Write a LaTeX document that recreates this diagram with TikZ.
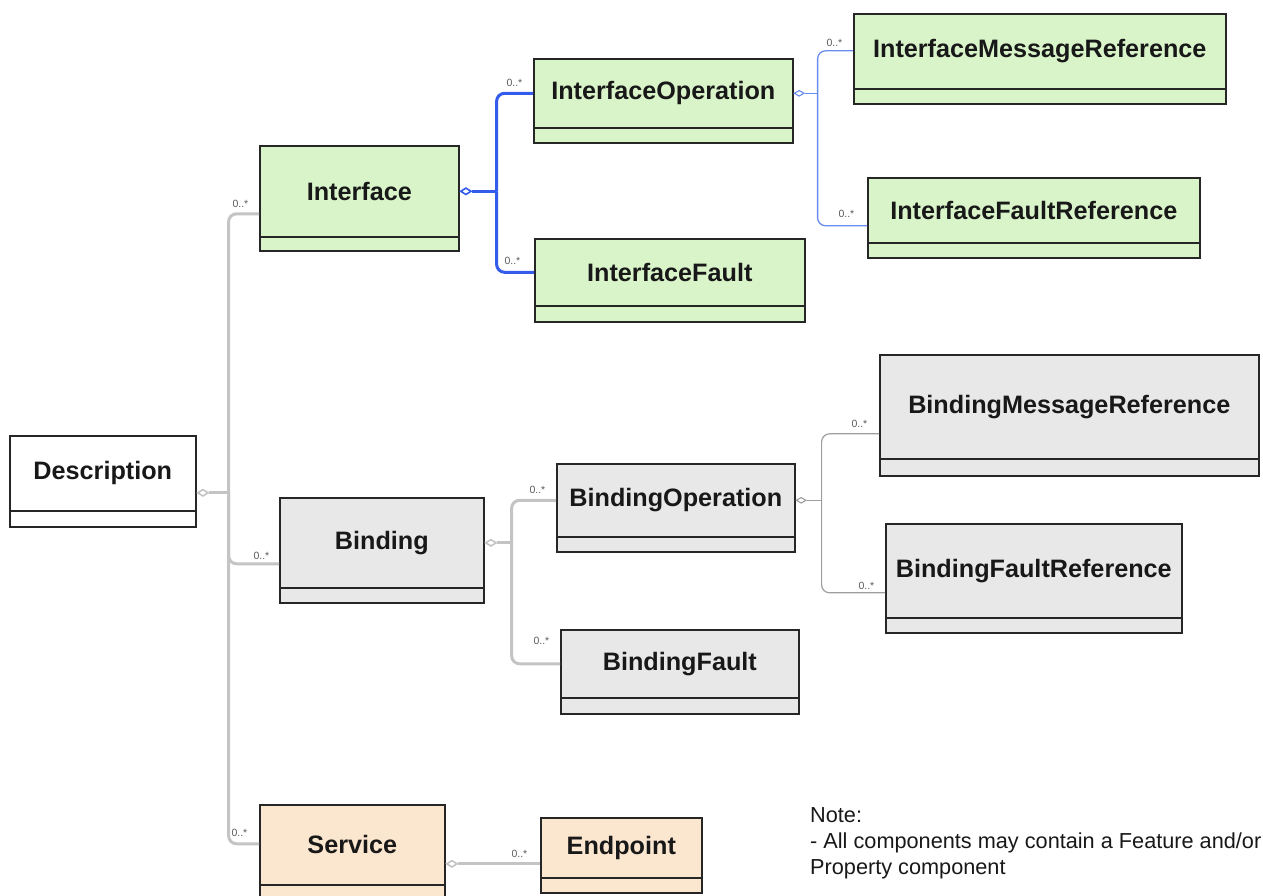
\documentclass[tikz,border=0pt]{standalone}
\usepackage{fontspec}
\setmainfont{Liberation Sans}
\usetikzlibrary{shapes.geometric,calc}

\definecolor{boxline}{RGB}{38,38,38}
\definecolor{boxtext}{RGB}{24,24,24}
\definecolor{greenfill}{RGB}{217,244,201}
\definecolor{grayfill}{RGB}{232,232,232}
\definecolor{peachfill}{RGB}{251,230,207}
\definecolor{bluethick}{RGB}{52,92,236}
\definecolor{bluethin}{RGB}{104,140,240}
\definecolor{graythick}{RGB}{196,196,196}
\definecolor{graythin}{RGB}{158,158,158}
\definecolor{multtext}{RGB}{90,90,90}

\tikzset{
  hdr/.style={draw=boxline, line width=1.6pt, anchor=north west, inner sep=0pt,
    font=\fontsize{25.2}{27}\selectfont\bfseries, text=boxtext},
  cmp/.style={draw=boxline, line width=1.6pt, anchor=north west, inner sep=0pt},
  bthick/.style={draw=bluethick, line width=3pt, rounded corners=8pt},
  bthin/.style={draw=bluethin, line width=1.3pt, rounded corners=8pt},
  gthick/.style={draw=graythick, line width=3pt, rounded corners=8pt},
  gthin/.style={draw=graythin, line width=1.2pt, rounded corners=8pt},
  agg/.style={shape=diamond, draw, fill=white, inner sep=0pt,
    minimum width=11pt, minimum height=7pt, anchor=west},
  mult/.style={font=\fontsize{10.5}{10.5}\selectfont, text=multtext,
    inner sep=0pt, anchor=base east},
}

% class box: name, left, top, right, divider, bottom, fill, title
\newcommand\umlbox[8]{%
  \node[hdr, fill=#7, minimum width={#4-#2}, minimum height={#5-#3}] (#1) at (#2,#3) {#8};
  \node[cmp, fill=#7, minimum width={#4-#2}, minimum height={#6-#5}] (#1-c) at (#2,#5) {};
}
% multiplicity label relative to a connector end
\newcommand\mult[4]{\node[mult] (#1) at ([xshift=#3pt,yshift=#4pt]#2) {0..*};}

\begin{document}
\begin{tikzpicture}[x=1pt,y=-1pt]
\useasboundingbox (0,0) rectangle (1263,896);
\clip (0,0) rectangle (1263,896);

% ---------- classes ----------
\umlbox{desc}{9}{435}{195}{510}{526}{white}{Description}
\umlbox{iface}{259}{145}{458}{236}{250}{greenfill}{Interface}
\umlbox{iop}{533}{58}{792}{127}{142}{greenfill}{InterfaceOperation}
\umlbox{ifault}{534}{238}{804}{305}{321}{greenfill}{InterfaceFault}
\umlbox{imr}{853}{13}{1225}{88}{103}{greenfill}{InterfaceMessageReference}
\umlbox{ifr}{867}{177}{1199}{242}{257}{greenfill}{InterfaceFaultReference}
\umlbox{bind}{279}{497}{483}{587}{602}{grayfill}{Binding}
\umlbox{bop}{556}{463}{794}{536}{551}{grayfill}{BindingOperation}
\umlbox{bfault}{560}{629}{798}{697}{713}{grayfill}{BindingFault}
\umlbox{bmr}{879}{354}{1258}{458}{475}{grayfill}{BindingMessageReference}
\umlbox{bfr}{885}{523}{1181}{617}{632}{grayfill}{BindingFaultReference}
\umlbox{svc}{259}{804}{444}{884}{900}{peachfill}{Service}
\umlbox{ep}{540}{817}{701}{877}{892}{peachfill}{Endpoint}

% ---------- Description -> Interface, Binding, Service ----------
\node[agg, draw=graythick, line width=1.6pt] (desc-d) at ([yshift=-19.5pt]desc.east) {};
\coordinate (dj) at ([xshift=32pt]desc-d.west);
\draw[gthick] (desc-d.east) -- (dj);
\draw[gthick] (dj) |- ([yshift=-22.5pt]iface.west) coordinate (e-iface);
\draw[gthick] (dj) |- ([yshift=-21pt]bind.west) coordinate (e-bind);
\draw[gthick] (dj) |- ([yshift=1pt]svc.west) coordinate (e-svc);
\mult{m-iface}{e-iface}{-10.5}{6.4}
\mult{m-bind}{e-bind}{-9.5}{4.4}
\mult{m-svc}{e-svc}{-11.5}{7.4}

% ---------- Interface -> InterfaceOperation, InterfaceFault ----------
\node[agg, draw=bluethick, line width=1.6pt] (iface-d) at (iface.east) {};
\coordinate (ij) at ([xshift=37pt]iface-d.west);
\draw[bthick] (iface-d.east) -- (ij);
\draw[bthick] (ij) |- (iop.west) coordinate (e-iop);
\draw[bthick] (ij) |- (ifault.west) coordinate (e-ifault);
\mult{m-iop}{e-iop}{-10.5}{6.4}
\mult{m-ifault}{e-ifault}{-13.5}{7.4}

% ---------- InterfaceOperation -> message / fault references ----------
\node[agg, draw=bluethin, line width=1.1pt, minimum width=10pt, minimum height=6pt] (iop-d) at (iop.east) {};
\coordinate (oj) at ([xshift=24pt]iop-d.west);
\draw[bthin] (iop-d.east) -- (oj);
\draw[bthin] (oj) |- ([yshift=0.5pt]imr.west) coordinate (e-imr);
\draw[bthin] (oj) |- ([yshift=-15.5pt]ifr.west) coordinate (e-ifr);
\mult{m-imr}{e-imr}{-10.5}{4.4}
\mult{m-ifr}{e-ifr}{-12.5}{8.4}

% ---------- Binding -> BindingOperation, BindingFault ----------
\node[agg, draw=graythick, line width=1.6pt] (bind-d) at (bind.east) {};
\coordinate (bj) at ([xshift=27pt]bind-d.west);
\draw[gthick] (bind-d.east) -- (bj);
\draw[gthick] (bj) |- (bop.west) coordinate (e-bop);
\draw[gthick] (bj) |- (bfault.west) coordinate (e-bfault);
\mult{m-bop}{e-bop}{-10.5}{6.4}
\mult{m-bfault}{e-bfault}{-10.5}{19.4}

% ---------- BindingOperation -> message / fault references ----------
\node[agg, draw=graythin, line width=1.1pt, minimum width=10pt, minimum height=6pt] (bop-d) at (bop.east) {};
\coordinate (pj) at ([xshift=26pt]bop-d.west);
\draw[gthin] (bop-d.east) -- (pj);
\draw[gthin] (pj) |- ([yshift=-27pt]bmr.west) coordinate (e-bmr);
\draw[gthin] (pj) |- ([yshift=-22pt]bfr.west) coordinate (e-bfr);
\mult{m-bmr}{e-bmr}{-11.5}{6.4}
\mult{m-bfr}{e-bfr}{-10.5}{3.4}

% ---------- Service -> Endpoint ----------
\node[agg, draw=graythick, line width=1.6pt] (svc-d) at ([yshift=-19pt]svc.east) {};
\draw[gthick] (svc-d.east) -- (svc-d.east -| ep.west) coordinate (e-ep);
\mult{m-ep}{e-ep}{-12.5}{6.4}

% ---------- note ----------
\node[anchor=north west, inner sep=0pt, align=left, text=boxtext,
      font=\fontsize{21.7}{26}\selectfont] (note) at (810,807.5)
  {Note:\\- All components may contain a Feature and/or\\Property component};
\end{tikzpicture}
\end{document}
